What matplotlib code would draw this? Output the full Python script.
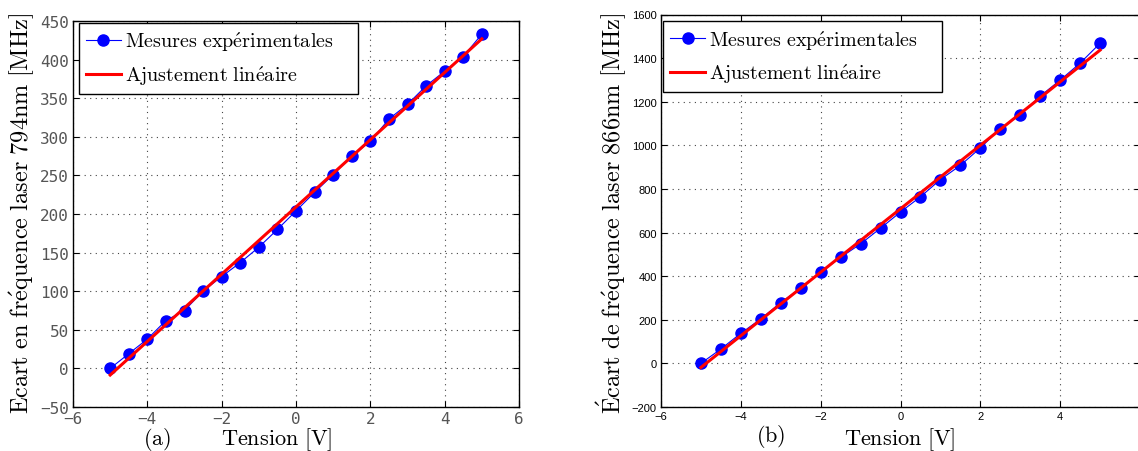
"""Laser frequency offset vs piezo voltage, two lasers (794nm / 866nm), with linear fits."""
import numpy as np
import matplotlib
matplotlib.use("Agg")
import matplotlib.pyplot as plt

plt.rcParams["mathtext.fontset"] = "cm"

# tension applied (V)
tension = [-5, -4.5, -4, -3.5, -3, -2.5, -2, -1.5, -1, -0.5, 0,
           0.5, 1, 1.5, 2, 2.5, 3, 3.5, 4, 4.5, 5]
# measured frequency offset (MHz)
ecart_794 = [0, 19, 38, 62, 75, 100, 119, 137, 157, 180, 204,
             228, 251, 275, 294, 323, 342, 366, 385, 404, 433]
ecart_866 = [0, 66, 138, 204, 279, 345, 418, 486, 548, 620, 694,
             764, 843, 908, 988, 1077, 1141, 1226, 1299, 1377, 1468]

xticks = [-6, -4, -2, 0, 2, 4, 6]
yticks_794 = list(range(-50, 451, 50))
yticks_866 = list(range(-200, 1601, 200))


def tex(s):
    s = s.replace(" ", r"\ ").replace("é", r"\acute{e}").replace("É", r"\acute{E}")
    return r"$\mathrm{" + s + "}$"


def panel(ax, y, yticks, tickfont, tickcolor, ticksize, leg_box):
    x = np.array(tension, dtype=float)
    y = np.array(y, dtype=float)
    a, b = np.polyfit(x, y, 1)
    ax.plot(x, y, "-o", color="#0000ff", lw=0.8, ms=8,
            label=tex("Mesures expérimentales"), zorder=3)
    ax.plot(x, a * x + b, "-", color="#ff0000", lw=2.2,
            label=tex("Ajustement linéaire"), zorder=4)
    ax.set_xlim(-6, 6)
    ax.set_ylim(yticks[0], yticks[-1])
    ax.set_xticks(xticks)
    ax.set_yticks(yticks)
    ax.grid(True, linestyle=(0, (1, 4)), color="#444444", lw=0.8)
    ax.tick_params(direction="in", top=True, right=True, length=4, width=0.8,
                   labelsize=ticksize, labelcolor=tickcolor, pad=3)
    for lab in ax.get_xticklabels() + ax.get_yticklabels():
        lab.set_family(tickfont)
    for sp in ax.spines.values():
        sp.set_linewidth(1.0)
    # MATLAB-style legend box is wider than its text -> expand mode
    leg = ax.legend(loc="upper left", bbox_to_anchor=leg_box, mode="expand",
                    borderaxespad=0, fontsize=14.5, handlelength=1.75,
                    handletextpad=0.2, labelspacing=0.5, borderpad=0.35,
                    fancybox=False, framealpha=1, edgecolor="black")
    leg.get_frame().set_linewidth(1.0)


fig = plt.figure(figsize=(11.38, 4.52), dpi=100)
ax1 = fig.add_axes([73 / 1138, 44 / 452, 446 / 1138, 386 / 452])
ax2 = fig.add_axes([661 / 1138, 44 / 452, 479 / 1138, 392.5 / 452])

panel(ax1, ecart_794, yticks_794, "DejaVu Sans Mono", "#555555", 11.5,
      (0.013, 0.795, 0.626, 0.2))
panel(ax2, ecart_866, yticks_866, "Liberation Sans", "black", 8,
      (0.004, 0.783, 0.582, 0.2))

fig.text(22 / 1138, 1 - 214 / 452, tex("Ecart en fréquence laser 794nm [MHz]"),
         rotation=90, ha="center", va="center", fontsize=17.5)
fig.text(612 / 1138, 1 - 214 / 452, tex("Écart de fréquence laser 866nm [MHz]"),
         rotation=90, ha="center", va="center", fontsize=17.5)
fig.text(157 / 1138, 1 - 440 / 452, tex("(a)"), ha="center", va="center", fontsize=16)
fig.text(277 / 1138, 1 - 440 / 452, tex("Tension [V]"), ha="center", va="center", fontsize=16)
fig.text(771 / 1138, 1 - 437 / 452, tex("(b)"), ha="center", va="center", fontsize=16)
fig.text(900 / 1138, 1 - 440 / 452, tex("Tension [V]"), ha="center", va="center", fontsize=16)

fig.savefig("out.png", dpi=100)
